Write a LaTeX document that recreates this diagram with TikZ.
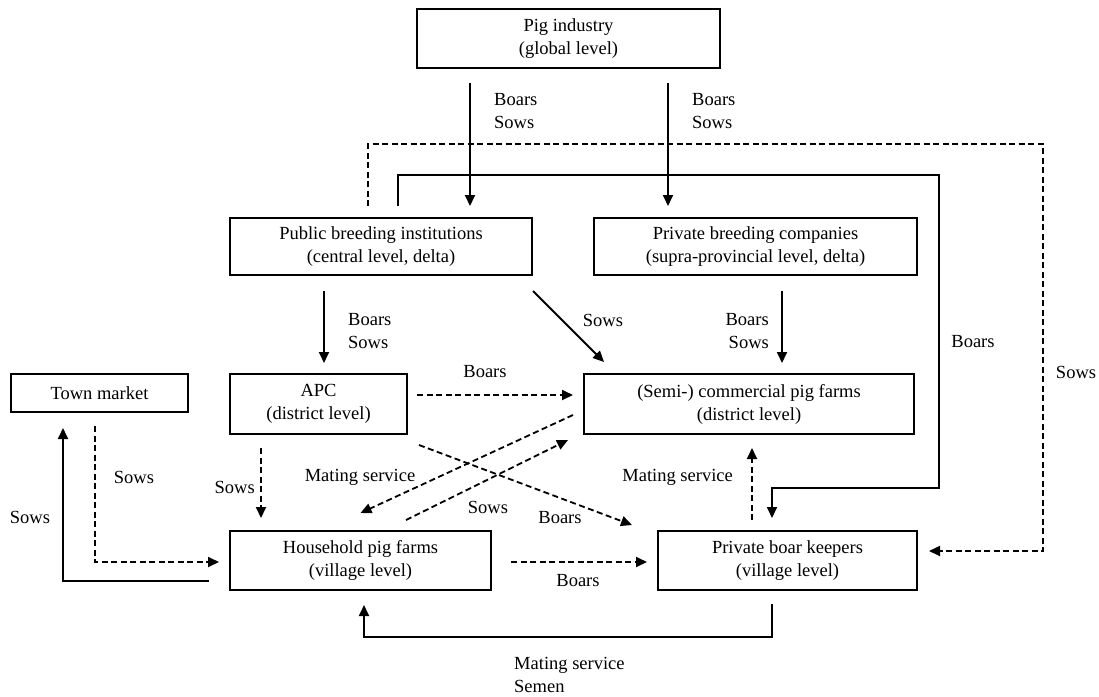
\documentclass[tikz,border=0pt]{standalone}
\usepackage{fontspec}
\setmainfont{Liberation Serif}
\usetikzlibrary{arrows.meta}
\tikzset{
  box/.style={draw, line width=2pt, align=center, inner sep=0pt},
  lbl/.style={inner sep=0pt},
  lblc/.style={anchor=center, align=center},
  lblw/.style={anchor=west, align=left},
  lble/.style={anchor=east, align=right},
  arr/.style={line width=1.8pt, -{Triangle[length=11pt,width=10pt]}},
  darr/.style={arr, dash pattern=on 6pt off 3.5pt},
  every node/.style={font=\fontsize{18.5}{23}\selectfont}
}
\newcommand{\farmbox}[6]{\node[box, minimum width=#4pt, minimum height=#5pt] (#1) at (#2,#3) {#6};}
\newcommand{\flowlbl}[5][lblc]{\node[lbl, #1] (#2) at (#3,#4) {#5};}

\begin{document}
\begin{tikzpicture}[x=1pt, y=-1pt]
        \useasboundingbox (0,0) rectangle (1099,696);
        % boxes
        \farmbox{pig}{568.5}{38.5}{303}{59}{Pig industry\\(global level)}
        \farmbox{pub}{381}{246.5}{302}{57}{Public breeding institutions\\(central level, delta)}
        \farmbox{priv}{755.5}{246.5}{323}{57}{Private breeding companies\\(supra-provincial level, delta)}
        \farmbox{town}{99.5}{393}{177}{38}{Town market}
        \farmbox{apc}{318.5}{404}{177}{60}{APC\\(district level)}
        \farmbox{semi}{749}{404}{330}{60}{(Semi-) commercial pig farms\\(district level)}
        \farmbox{house}{360.5}{560.5}{261}{59}{Household pig farms\\(village level)}
        \farmbox{boar}{787.5}{560.5}{259}{59}{Private boar keepers\\(village level)}

        % labels
        \flowlbl[lblw]{l1}{494}{111.5}{Boars\\Sows}
        \flowlbl[lblw]{l2}{692}{111.5}{Boars\\Sows}
        \flowlbl[lblw]{l3}{348}{331}{Boars\\Sows}
        \flowlbl[lble]{l4}{769}{331}{Boars\\Sows}
        \flowlbl{l5}{603}{320}{Sows}
        \flowlbl{l6}{485}{372}{Boars}
        \flowlbl{l7}{973}{342}{Boars}
        \flowlbl{l8}{1076}{372}{Sows}
        \flowlbl{l9}{360}{477}{Mating service}
        \flowlbl[lble]{l10}{255}{487}{Sows}
        \flowlbl{l11}{134}{477}{Sows}
        \flowlbl{l12}{30}{517}{Sows}
        \flowlbl{l13}{488}{507}{Sows}
        \flowlbl{l14}{560}{518}{Boars}
        \flowlbl[lble]{l15}{733}{477}{Mating service}
        \flowlbl{l16}{578}{581}{Boars}
        \flowlbl[lblw]{l17}{514}{675}{Mating service\\Semen}

        % solid flows
        \draw[arr, shorten <=14pt, shorten >=11pt] ([xshift=-98.5pt]pig.south) -- ([xshift=89pt]pub.north);
        \draw[arr, shorten <=14pt, shorten >=11pt] ([xshift=99.5pt]pig.south) -- ([xshift=-87.5pt]priv.north);
        \draw[arr, shorten <=15pt, shorten >=10pt] ([xshift=-57pt]pub.south) -- ([xshift=5.5pt]apc.north);
        \draw[arr, shorten <=15pt, shorten >=10pt] ([xshift=26.5pt]priv.south) -- ([xshift=33pt]semi.north);
        \draw[arr] ([yshift=-15pt]pub.south east) -- ([xshift=21pt,yshift=11pt]semi.north west);
        \draw[arr] ([xshift=-20pt,yshift=-20.5pt]house.west) -| ([xshift=-36.5pt,yshift=-15pt]town.south);
        \draw[arr] ([xshift=-15.5pt,yshift=-13pt]boar.south) -- ++(0,33) -| ([xshift=3.5pt,yshift=-14pt]house.south);
        \draw[arr] ([xshift=17pt,yshift=11pt]pub.north) -- ++(0,-31) -| (939,488) -| ([xshift=-15.5pt,yshift=12pt]boar.north);

        % dashed flows
        \draw[darr] ([xshift=-13pt,yshift=11pt]pub.north) |- (1043,144) |- ([xshift=11pt,yshift=9.5pt]boar.east);
        \draw[darr] ([xshift=9pt,yshift=9pt]apc.east) -- ([xshift=-10pt,yshift=9pt]semi.west);
        \draw[darr] ([xshift=11pt,yshift=-10pt]apc.south east) -- ([xshift=-25pt,yshift=5pt]boar.north west);
        \draw[darr] ([xshift=-10pt,yshift=-11pt]semi.west) -- ([yshift=17pt]house.north);
        \draw[darr] ([xshift=45.5pt,yshift=10pt]house.north) -- ([xshift=-15pt,yshift=-5pt]semi.south west);
        \draw[darr, shorten <=13pt, shorten >=12pt] ([xshift=-57.5pt]apc.south) -- ([xshift=-99.5pt]house.north);
        \draw[darr, shorten <=19pt, shorten >=10pt] ([yshift=-1.5pt]house.east) -- ([yshift=-1.5pt]boar.west);
        \draw[darr, shorten <=10pt, shorten >=13pt] ([xshift=-35.5pt]boar.north) -- ([xshift=3pt]semi.south);
        \draw[darr] ([xshift=-4.5pt,yshift=-13pt]town.south) |- ([xshift=-10pt,yshift=-1.5pt]house.west);
\end{tikzpicture}
\end{document}
